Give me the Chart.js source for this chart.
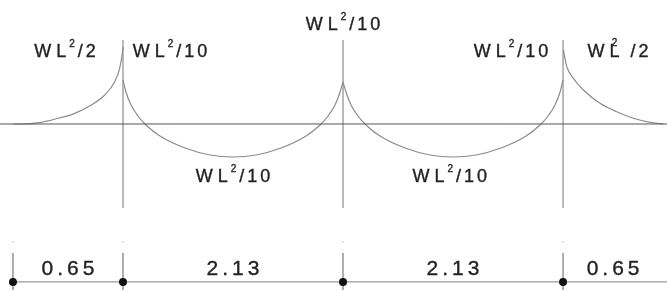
<!DOCTYPE html>
<html>
<head>
<meta charset="utf-8">
<script src="https://cdn.jsdelivr.net/npm/chart.js@4"></script>
<style>
  html, body { margin: 0; padding: 0; background: #fff; }
  canvas { display: block; }
</style>
</head>
<body>
<canvas id="chart" width="667" height="291"></canvas>
<script>
// supports, in drawing units (spans are not drawn to scale)
const supportX = [0, 1, 3, 5];
const endX = 5.91;
const spanLengths = ['0.65', '2.13', '2.13', '0.65'];

// moment curves (x in drawing units, M relative to WL²/2 at the left support)
const cantLeftX = [0, 0.075, 0.257, 0.409, 0.561, 0.712, 0.834, 0.925, 0.97, 0.994, 1.0];
const cantLeftM = [0, 0, 0.02, 0.068, 0.127, 0.226, 0.345, 0.504, 0.663, 0.842, 0.917];
const span1X = [1.0, 1.027, 1.073, 1.136, 1.209, 1.336, 1.564, 1.791, 2.0, 2.209, 2.436, 2.664, 2.791, 2.864, 2.927, 2.973, 3.0];
const span1M = [0.524, 0.381, 0.226, 0.095, -0.012, -0.143, -0.286, -0.369, -0.393, -0.369, -0.286, -0.143, -0.012, 0.095, 0.226, 0.381, 0.5];
const span2X = [3.0, 3.027, 3.073, 3.136, 3.209, 3.336, 3.564, 3.791, 4.0, 4.209, 4.436, 4.664, 4.791, 4.864, 4.927, 4.973, 5.0];
const span2M = [0.5, 0.381, 0.226, 0.095, -0.012, -0.143, -0.286, -0.369, -0.393, -0.369, -0.286, -0.143, -0.012, 0.095, 0.226, 0.381, 0.524];
const cantRightX = [5.003, 5.034, 5.094, 5.185, 5.336, 5.488, 5.639, 5.791, 5.912];
const cantRightM = [0.881, 0.682, 0.544, 0.405, 0.246, 0.146, 0.068, 0.02, 0];

// moment labels ('^2' superscript, '_2' superscript sitting over the previous letter)
const momentText = ['WL^2/2', 'WL^2/10', 'WL^2/10', 'WL^2/10', 'WL_2 /2', 'WL^2/10', 'WL^2/10'];
const momentX = [0.473, 1.427, 3.0, 4.527, 5.5, 2.0, 3.97];
const momentY = [0.80, 0.80, 1.12, 0.80, 0.80, -0.69, -0.69];

// dimension row
const dimY = -1.88;
const dimLabelY = -1.80;

function pts(xs, ys) {
    return xs.map((x, i) => ({ x: x, y: ys[i] }));
}

function lineSet(data, color, width) {
    return {
        data: data,
        showLine: true,
        borderColor: color,
        borderWidth: width,
        pointRadius: 0,
        cubicInterpolationMode: 'monotone',
        fill: false
    };
}

const datasets = [];
datasets.push(lineSet([{ x: -0.2, y: 0 }, { x: 6.1, y: 0 }], '#555', 1));
datasets.push(lineSet(pts(cantLeftX, cantLeftM), '#8c8c8c', 1.2));
datasets.push(lineSet(pts(span1X, span1M), '#8c8c8c', 1.2));
datasets.push(lineSet(pts(span2X, span2M), '#8c8c8c', 1.2));
datasets.push(lineSet(pts(cantRightX, cantRightM), '#8c8c8c', 1.2));
supportX.slice(1).forEach(s => {
    datasets.push(lineSet([{ x: s, y: 1.0 }, { x: s, y: -1.0 }], '#8c8c8c', 1.2));
});
supportX.forEach(s => {
    datasets.push(lineSet([{ x: s, y: -1.536 }, { x: s, y: -1.976 }], '#777', 1.2));
});
datasets.push(lineSet([{ x: 0, y: dimY }, { x: 6.1, y: dimY }], '#999', 1.2));
datasets.push({
    data: supportX.map(s => ({ x: s, y: -1.405 })),
    pointRadius: 1,
    pointBackgroundColor: '#ddd',
    pointBorderWidth: 0
});
datasets.push({
    data: supportX.map(s => ({ x: s, y: dimY })),
    order: -1,
    pointRadius: 4,
    pointBackgroundColor: '#111',
    pointBorderWidth: 0
});

const FONT = 'px "Liberation Sans", Arial, sans-serif';

function drawSpaced(ctx, text, cx, baseY, size, spacing) {
    const parts = [];
    for (let i = 0; i < text.length; i++) {
        if (text[i] === '^' || text[i] === '_') {
            parts.push({ ch: text[i + 1], sup: true, over: text[i] === '_' });
            i++;
        } else {
            parts.push({ ch: text[i], sup: false });
        }
    }
    const supSize = Math.round(size * 0.55);
    let total = 0;
    parts.forEach((p, i) => {
        ctx.font = (p.sup ? supSize : size) + FONT;
        p.w = ctx.measureText(p.ch).width;
        p.gap = p.ch === 'W' ? spacing + 2 : spacing;
        if (!p.over) total += p.w + (i < parts.length - 1 ? p.gap : 0);
    });
    let x = cx - total / 2;
    let prev = null;
    parts.forEach(p => {
        ctx.font = (p.sup ? supSize : size) + FONT;
        let px = x, py = p.sup ? baseY - size * 0.55 : baseY;
        if (p.over) {
            px = prev.x + prev.w / 2 - p.w / 2;
            py = baseY - size * 0.6;
        }
        ctx.fillText(p.ch, px, py);
        ctx.strokeText(p.ch, px, py);
        if (p.over) return;
        prev = { x: x, w: p.w };
        x += p.w + p.gap;
    });
}

const labelPlugin = {
    id: 'labels',
    afterDatasetsDraw(chart) {
        const ctx = chart.ctx;
        const xs = chart.scales.x;
        const ys = chart.scales.y;
        ctx.save();
        ctx.fillStyle = '#222';
        ctx.strokeStyle = '#222';
        ctx.lineWidth = 0.35;
        ctx.textBaseline = 'alphabetic';
        ctx.textAlign = 'left';
        momentText.forEach((t, i) => {
            drawSpaced(ctx, t, xs.getPixelForValue(momentX[i]), ys.getPixelForValue(momentY[i]), 18, 3);
        });
        const ends = supportX.concat([endX]);
        spanLengths.forEach((t, i) => {
            const mid = (ends[i] + ends[i + 1]) / 2;
            drawSpaced(ctx, t, xs.getPixelForValue(mid), ys.getPixelForValue(dimLabelY), 21, 4);
        });
        ctx.restore();
    }
};

new Chart(document.getElementById('chart').getContext('2d'), {
    type: 'scatter',
    data: { datasets: datasets },
    options: {
        responsive: false,
        animation: false,
        layout: { padding: 0, autoPadding: false },
        plugins: { legend: { display: false }, tooltip: { enabled: false } },
        scales: {
            x: { type: 'linear', min: -0.118, max: 5.945, display: false },
            y: { type: 'linear', min: -1.988, max: 1.476, display: false }
        }
    },
    plugins: [labelPlugin]
});
</script>
</body>
</html>
